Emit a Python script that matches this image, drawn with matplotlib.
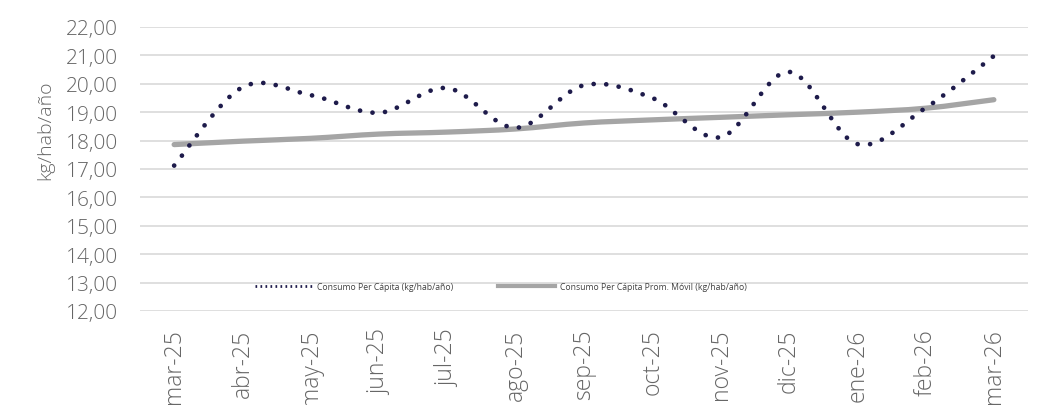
import numpy as np
import matplotlib
matplotlib.use("Agg")
import matplotlib.pyplot as plt
from matplotlib.path import Path
from matplotlib.patches import PathPatch
from matplotlib.lines import Line2D
from matplotlib.ticker import FuncFormatter

# datos
meses = ["mar-25", "abr-25", "may-25", "jun-25", "jul-25", "ago-25", "sep-25",
         "oct-25", "nov-25", "dic-25", "ene-26", "feb-26", "mar-26"]
consumo = [17.12, 19.88, 19.60, 18.98, 19.85, 18.45, 19.95,
           19.50, 18.12, 20.42, 17.88, 19.15, 20.98]
prom_movil = [17.86, 17.98, 18.08, 18.23, 18.30, 18.41, 18.62,
              18.73, 18.82, 18.91, 19.00, 19.14, 19.44]

plt.rcParams['font.family'] = ['Open Sans', 'DejaVu Sans']


def curva_suave(xs, ys):
    # bezier tipo excel (catmull-rom) entre los puntos
    xs = np.asarray(xs, float)
    ys = np.asarray(ys, float)
    n = len(xs)
    verts = [(xs[0], ys[0])]
    codes = [Path.MOVETO]
    for i in range(n - 1):
        x0, y0 = (xs[i - 1], ys[i - 1]) if i > 0 else (xs[i], ys[i])
        x3, y3 = (xs[i + 2], ys[i + 2]) if i + 2 < n else (xs[i + 1], ys[i + 1])
        c1 = (xs[i] + (xs[i + 1] - x0) / 6, ys[i] + (ys[i + 1] - y0) / 6)
        c2 = (xs[i + 1] - (x3 - xs[i]) / 6, ys[i + 1] - (y3 - ys[i]) / 6)
        verts += [c1, c2, (xs[i + 1], ys[i + 1])]
        codes += [Path.CURVE4] * 3
    return Path(verts, codes)


fig = plt.figure(figsize=(10.48, 4.06), dpi=100)
ax = fig.add_axes([140 / 1048, 1 - 312 / 406, 888 / 1048, 284 / 406])

x = np.arange(len(meses))
gris = '#A5A5A5'
azul = '#1E1B4B'
texto = '#666666'

ax.set_xlim(-0.5, len(meses) - 0.5)
ax.set_ylim(12, 22)

ax.add_patch(PathPatch(curva_suave(x, prom_movil), facecolor='none', edgecolor=gris,
                       lw=3.8, capstyle='round', zorder=3))

# espaciado de puntos ajustado para que el ultimo punto caiga al final
path_c = curva_suave(x, consumo)
lw_p = 3.4
poly = ax.transData.transform_path(path_c).to_polygons(closed_only=False)[0]
largo = np.sum(np.hypot(*np.diff(poly, axis=0).T))
n_pts = round(largo / 12.6)
gap = largo / (n_pts + 0.1) / (lw_p * 100 / 72) - 0.01
ax.add_patch(PathPatch(path_c, facecolor='none', edgecolor=azul,
                       lw=lw_p, linestyle=(0, (0.01, gap)), capstyle='round', zorder=4))

ax.set_yticks(np.arange(12, 23, 1))
ax.yaxis.set_major_formatter(FuncFormatter(lambda v, p: f"{v:.2f}".replace('.', ',')))
ax.set_xticks(x)
ax.set_xticklabels(meses, rotation=90, fontsize=16.5, color=texto, fontweight='light')
for t in ax.get_yticklabels():
    t.set_fontweight('light')
ax.tick_params(axis='y', labelsize=15, colors=texto, length=0, pad=16)
ax.tick_params(axis='x', length=0, pad=12.5)
ax.grid(axis='y', color='#D9D9D9', lw=1.2)
ax.set_axisbelow(True)
for s in ax.spines.values():
    s.set_visible(False)

fig.text(45 / 1048, 1 - 130 / 406, 'kg/hab/año', rotation=90, ha='center', va='center',
         fontsize=14, color=texto, fontweight='light')

handles = [
    Line2D([], [], color=azul, lw=2, linestyle=(0, (0.6, 1.2))),
    Line2D([], [], color=gris, lw=3),
]
ax.legend(handles, ["Consumo Per Cápita (kg/hab/año)",
                    "Consumo Per Cápita Prom. Móvil (kg/hab/año)"],
          loc='center', bbox_to_anchor=(0.407, 0.085), ncol=2, frameon=False,
          fontsize=6.2, handlelength=6.6, columnspacing=5.2, handletextpad=0.6,
          labelcolor='#404040')

fig.savefig('out.png', dpi=100)
